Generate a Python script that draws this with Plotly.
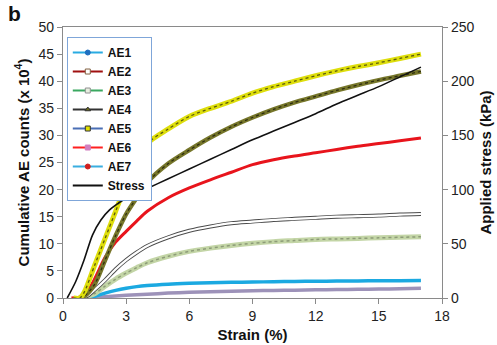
import plotly.graph_objects as go

# ---- data ----
ae1_x = [1.0, 1.5, 2, 2.5, 3, 3.5, 4, 5, 6, 7, 8, 9, 10, 11, 12, 13, 14, 15, 16, 17]
ae1_y = [0, 0.3, 0.9, 1.4, 1.8, 2.1, 2.3, 2.55, 2.7, 2.8, 2.9, 2.95, 3.0, 3.05, 3.1, 3.12, 3.15, 3.18, 3.2, 3.22]

ae2_x = [0.9, 1.2, 1.5, 2, 2.5, 3, 3.5, 4, 5, 6, 7, 8, 9, 10, 11, 12, 13, 14, 15, 16, 17]
ae2_y = [0, 0.5, 1.5, 3.3, 5.3, 7.0, 8.4, 9.6, 11.2, 12.4, 13.2, 13.8, 14.1, 14.4, 14.6, 14.8, 15.0, 15.1, 15.2, 15.4, 15.5]

ae3_x = [0.9, 1.5, 2, 2.5, 3, 3.5, 4, 5, 6, 7, 8, 9, 10, 11, 12, 13, 14, 15, 16, 17]
ae3_y = [0, 0.8, 2.2, 3.5, 4.6, 5.6, 6.5, 7.7, 8.6, 9.2, 9.7, 10.1, 10.4, 10.6, 10.8, 10.9, 11.0, 11.1, 11.2, 11.3]

ae4_x = [0.8, 1.0, 1.5, 2, 2.5, 3, 3.5, 4, 5, 6, 7, 8, 9, 10, 11, 12, 13, 14, 15, 16, 17]
ae4_y = [0, 0.3, 2.5, 7.0, 11.5, 15.5, 18.5, 21.3, 24.8, 27.3, 29.6, 31.6, 33.3, 34.8, 36.1, 37.2, 38.3, 39.3, 40.2, 41.0, 41.8]

ae5_x = [0.5, 0.8, 1.0, 1.5, 2, 2.5, 3, 3.5, 4, 5, 6, 7, 8, 9, 10, 11, 12, 13, 14, 15, 16, 17]
ae5_y = [0, 0, 1.0, 6.0, 11.0, 16.0, 21.0, 25.0, 28.5, 31.2, 33.5, 35.0, 36.3, 37.8, 39.0, 40.0, 41.0, 41.9, 42.7, 43.4, 44.2, 45.0]

ae6_x = [0.4, 0.9, 1.2, 1.5, 2, 2.5, 3, 3.5, 4, 5, 6, 7, 8, 9, 10, 11, 12, 13, 14, 15, 16, 17]
ae6_y = [0, 0.3, 1.5, 3.5, 7.5, 10.3, 12.3, 14.2, 16.0, 18.5, 20.3, 21.8, 23.2, 24.6, 25.5, 26.2, 26.8, 27.4, 28.0, 28.5, 29.0, 29.5]

ae7_x = [1.0, 2, 3, 4, 5, 6, 7, 8, 9, 10, 11, 12, 13, 14, 15, 16, 17]
ae7_y = [0, 0.25, 0.5, 0.7, 0.9, 1.05, 1.15, 1.25, 1.32, 1.4, 1.45, 1.5, 1.55, 1.6, 1.65, 1.72, 1.8]

stress_x = [0.2, 0.6, 1.0, 1.4, 1.8, 2.2, 2.6, 3, 4, 5, 6, 7, 8, 9, 10, 11, 12, 13, 14, 15, 16, 17]
stress_y = [0, 15, 35, 58, 72, 81, 87, 92, 101, 110, 119, 128, 137, 146, 154, 162, 170, 179, 187, 195, 204, 213]

x_ticks = [0, 3, 6, 9, 12, 15, 18]
y_left_ticks = [0, 5, 10, 15, 20, 25, 30, 35, 40, 45, 50]
y_right_ticks = [0, 50, 100, 150, 200, 250]

legend_names = ["AE1", "AE2", "AE3", "AE4", "AE5", "AE6", "AE7", "Stress"]

fig = go.Figure()

def curve(x, y, color, width, dash=None, yaxis="y"):
    fig.add_trace(go.Scatter(x=x, y=y, mode="lines", yaxis=yaxis, showlegend=False,
                             hoverinfo="skip",
                             line=dict(color=color, width=width, dash=dash, shape="spline", smoothing=0.8)))

# AE7 purple
curve(ae7_x, ae7_y, "#9d92b9", 3.5)
# AE1 blue
curve(ae1_x, ae1_y, "#1ba9e1", 3.5)
# AE3 light green textured
curve(ae3_x, ae3_y, "#c3d5a6", 5)
curve(ae3_x, ae3_y, "#8d9c78", 1.5, dash="dot")
# AE2 white band with dark edges
curve(ae2_x, ae2_y, "#4a4a4a", 4)
curve(ae2_x, ae2_y, "#ffffff", 2.2)
# AE6 red
curve(ae6_x, ae6_y, "#e8141c", 3)
# AE4 olive
curve(ae4_x, ae4_y, "#76762a", 4.5)
curve(ae4_x, ae4_y, "#2e2e10", 1.3, dash="dot")
# AE5 yellow
curve(ae5_x, ae5_y, "#dede0c", 5)
curve(ae5_x, ae5_y, "#5c5c0a", 1.3, dash="dot")
# Stress (right axis)
curve(stress_x, stress_y, "#111111", 1.6, yaxis="y2")

# legend entries (styles as shown in the reference legend)
leg_styles = [
    dict(line="#29abe2", mk="#1f6fc0", sym="circle", edge="#1f6fc0"),
    dict(line="#a01010", mk="#ffffff", sym="square", edge="#806040"),
    dict(line="#3aa860", mk="#e8eee0", sym="square", edge="#909090"),
    dict(line="#333333", mk="#6b6b1e", sym="triangle-up", edge="#333333"),
    dict(line="#4a6fb5", mk="#e0e000", sym="square", edge="#333333"),
    dict(line="#ff2020", mk="#d080c0", sym="square", edge="#d080c0"),
    dict(line="#3aaee0", mk="#d02020", sym="circle", edge="#d02020"),
]
for name, st in zip(legend_names[:7], leg_styles):
    fig.add_trace(go.Scatter(x=[None], y=[None], mode="lines+markers", name=name,
                             line=dict(color=st["line"], width=2),
                             marker=dict(color=st["mk"], symbol=st["sym"], size=5,
                                         line=dict(color=st["edge"], width=1))))
fig.add_trace(go.Scatter(x=[None], y=[None], mode="lines", name=legend_names[7],
                         line=dict(color="#111111", width=2)))

axis_font = dict(family="Liberation Sans, Arial, sans-serif", size=14, color="#222222")
title_font = dict(family="Liberation Sans, Arial, sans-serif", size=15, color="#111111", weight="bold")

fig.update_layout(
    width=497, height=345,
    margin=dict(l=63, r=55, t=27, b=47, autoexpand=False),
    paper_bgcolor="white", plot_bgcolor="white",
    font=axis_font,
    xaxis=dict(range=[0, 18], tickvals=x_ticks, showgrid=False, zeroline=False, automargin=False,
               showline=True, linecolor="#8a8a8a", linewidth=1.3, mirror=True,
               ticks="outside", ticklen=5, tickcolor="#8a8a8a",
               title=dict(text="Strain (%)", font=title_font, standoff=6),
               tickfont=axis_font),
    yaxis=dict(range=[0, 50], tickvals=y_left_ticks, showgrid=False, zeroline=False, automargin=False,
               showline=True, linecolor="#8a8a8a", linewidth=1.3,
               ticks="outside", ticklen=5, tickcolor="#8a8a8a",
               title=dict(text="Cumulative AE counts (x 10<sup>4</sup>)", font=title_font, standoff=5),
               tickfont=axis_font),
    yaxis2=dict(range=[0, 250], tickvals=y_right_ticks, overlaying="y", side="right",
                showgrid=False, zeroline=False, automargin=False,
                showline=True, linecolor="#8a8a8a", linewidth=1.3,
                ticks="outside", ticklen=5, tickcolor="#8a8a8a",
                title=dict(text="Applied stress (kPa)", font=title_font, standoff=6),
                tickfont=axis_font),
    legend=dict(x=0.01, y=0.963, xanchor="left", yanchor="top",
                bgcolor="white", bordercolor="#7fa6d9", borderwidth=1,
                font=dict(family="Liberation Sans, Arial, sans-serif", size=12, color="#111111", weight="bold"),
                itemwidth=30, tracegroupgap=0, traceorder="normal"),
    annotations=[dict(text="b", x=(14 - 63) / 379, y=(298 - 14) / 271, xref="paper", yref="paper",
                      xanchor="center", yanchor="middle", showarrow=False,
                      font=dict(family="Liberation Sans, Arial, sans-serif", size=21, color="#111111", weight="bold"))],
)

fig.write_html("out.html")
